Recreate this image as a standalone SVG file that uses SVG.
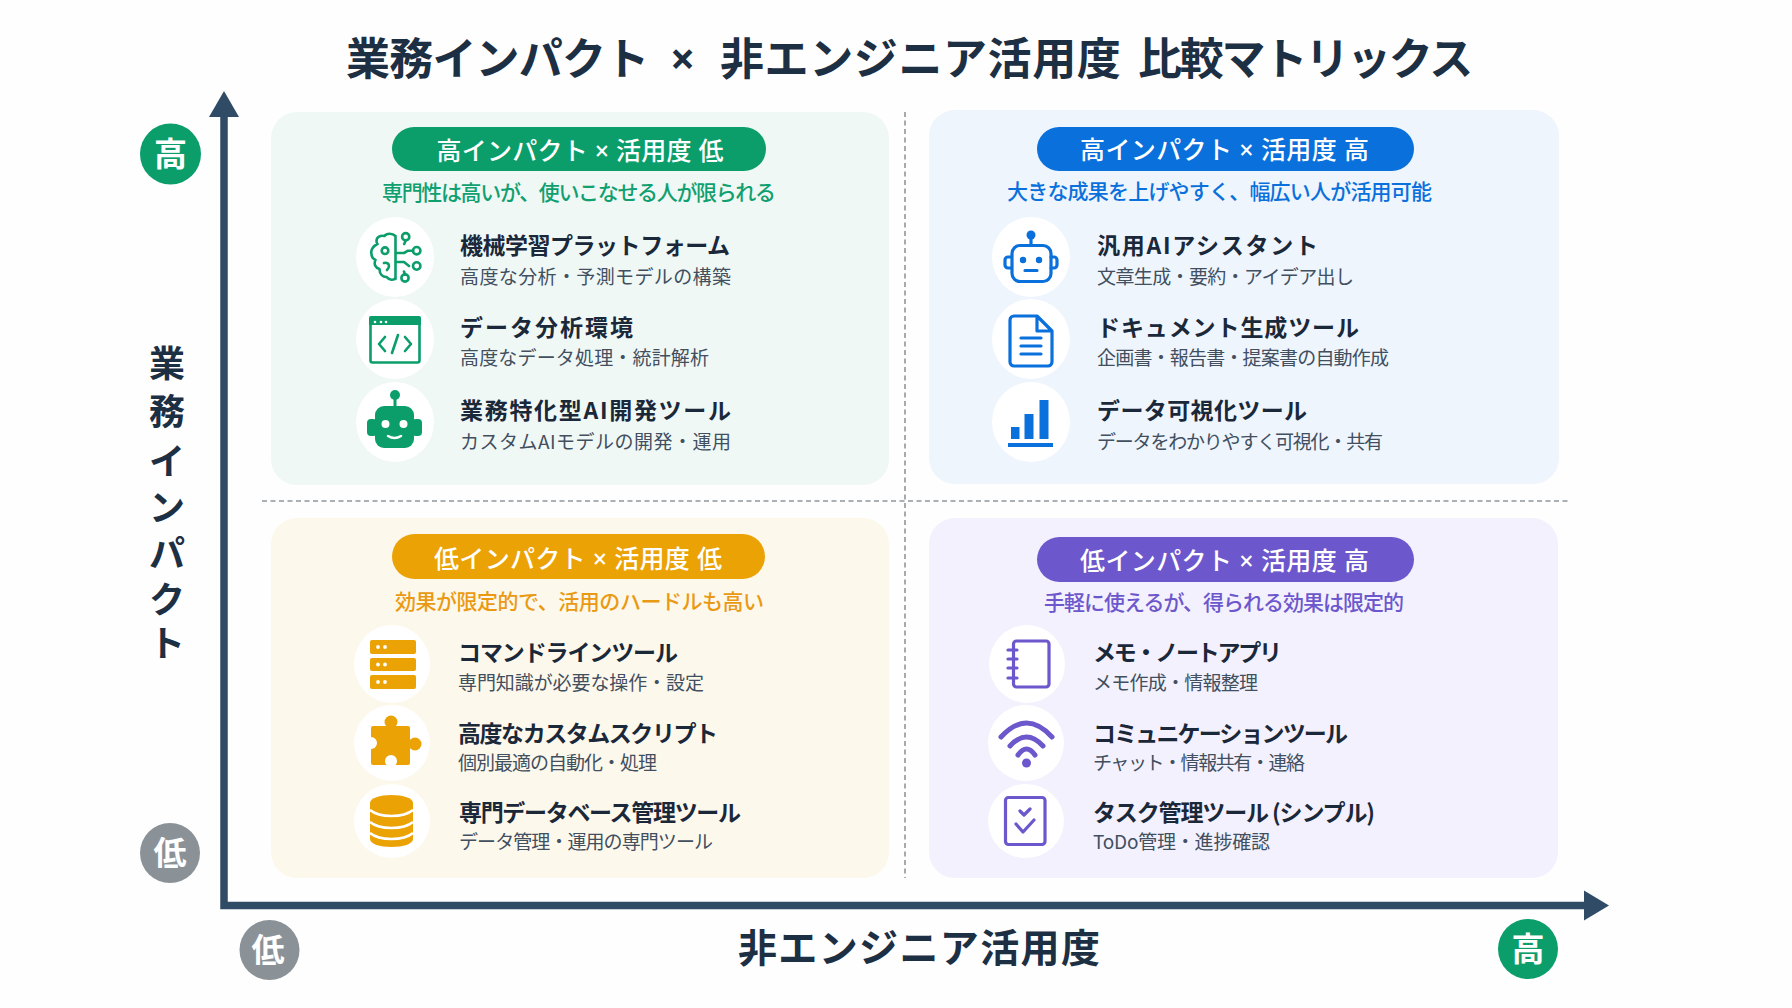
<svg xmlns="http://www.w3.org/2000/svg" width="1792" height="1008" viewBox="0 0 1792 1008">
<defs>
<style>
text{font-family:"Noto Sans CJK JP","Noto Sans",sans-serif}
.title{font-size:44px;font-weight:700;fill:#1d2f43;font-family:"Noto Sans","Noto Sans CJK JP",sans-serif}
.axis{font-size:39px;font-weight:700;fill:#1d2f43}
.badge{font-size:33px;font-weight:700;fill:#fff;text-anchor:middle}
.pill{font-size:25px;font-weight:500;fill:#fff;font-family:"Noto Sans","Noto Sans CJK JP",sans-serif}
.sub{font-size:21px;font-weight:500}
.t{font-size:23px;font-weight:700;fill:#1a2839}
.d{font-size:19px;font-weight:400;fill:#414f5f}
.w{fill:#fff}
.dash{stroke:#8f969c;stroke-width:1.6;stroke-dasharray:5 3.5;fill:none}
.ax{stroke:#2f4b66;stroke-width:7.5;fill:none}
.g{fill:#0b9e6b}.gs{stroke:#0b9e6b;fill:none;stroke-width:2.6;stroke-linecap:round;stroke-linejoin:round}
.b{fill:#0a70dc}.bs{stroke:#0a70dc;fill:none;stroke-width:3.2;stroke-linecap:round;stroke-linejoin:round}
.o{fill:#eba205}
.p{fill:#6d57cc}.ps{stroke:#6d57cc;fill:none;stroke-width:3.2;stroke-linecap:round;stroke-linejoin:round}
</style>
</defs>
<rect width="1792" height="1008" fill="#fefefe"/>
<text class="title" y="75"><tspan x="346" letter-spacing="-0.8">業務インパクト </tspan><tspan x="670">× </tspan><tspan x="720" letter-spacing="0.6">非エンジニア活用度 </tspan><tspan x="1138" letter-spacing="-2.2">比較マトリックス</tspan></text>

<g id="q-high-low">
<rect x="271" y="112" width="618" height="373" rx="26" fill="#f0f8f6"/>
<rect x="392" y="127" width="374" height="44" rx="22" class="g"/>
<text class="pill" x="436.500" y="160" textLength="287">高インパクト × 活用度 低</text>
<text class="sub" x="382" y="200" textLength="394" fill="#10a06f">専門性は高いが、使いこなせる人が限られる</text>
<g id="item-ml">
<ellipse cx="395" cy="257" rx="39" ry="40" class="w"/>
<path class="gs" d="M395.500 236c-3-3-9-3-11 0-4-1-8 1-8 5 0 1 0 2 1 3-5 2-7 7-6 10 0 3 2 5 4 6-2 4 0 8 4 9 0 5 3 8 7 8 3 3 7 4 9 1zM395.500 236v43"/>
<circle class="gs" cx="385" cy="250.700" r="3.300"/><path class="gs" d="M384 263c3-1 5 1 5 3s-1 3-2 4"/>
<path class="gs" d="M396 253h8l4-2.300h5M396 262h8l5 4M405.700 240.500l-1.500 3.500M405 274.500l-1 -3"/>
<circle class="gs" cx="405.700" cy="236.700" r="3.600"/><circle class="gs" cx="416.700" cy="250.700" r="3.700"/><circle class="gs" cx="416.700" cy="266" r="3.700"/><circle class="gs" cx="405" cy="278" r="3.600"/>
<text class="t" x="460" y="254" textLength="270">機械学習プラットフォーム</text>
<text class="d" x="460" y="284" textLength="271">高度な分析・予測モデルの構築</text>
</g>
<g id="item-env">
<ellipse cx="395" cy="339" rx="39" ry="40" class="w"/>
<rect class="gs" x="370.500" y="317.500" width="49" height="45" rx="2"/>
<path class="g" d="M369 318a2 2 0 0 1 2-2h48a2 2 0 0 1 2 2v7h-52z"/>
<circle class="w" cx="375" cy="322" r="1.300"/><circle class="w" cx="381" cy="322" r="1.300"/><circle class="w" cx="386" cy="322" r="1.300"/>
<path class="gs" d="M385 337l-6 7 6 7M405 337l6 7-6 7M398 335l-6 18"/>
<text class="t" x="460" y="336" textLength="173">データ分析環境</text>
<text class="d" x="460" y="365" textLength="249">高度なデータ処理・統計解析</text>
</g>
<g id="item-ai-dev">
<ellipse cx="395" cy="422" rx="39" ry="40" class="w"/>
<circle class="g" cx="395" cy="395" r="5"/><rect class="g" x="393.500" y="397" width="3" height="10"/>
<rect class="g" x="367" y="419" width="10" height="17" rx="4"/><rect class="g" x="412" y="419" width="10" height="17" rx="4"/>
<rect class="g" x="375" y="406" width="39" height="42" rx="9"/>
<circle class="w" cx="385.500" cy="424" r="4"/><circle class="w" cx="403.500" cy="424" r="4"/>
<path d="M388 436q6.500 4 13 0" stroke="#fff" stroke-width="2.500" fill="none" stroke-linecap="round"/>
<text class="t" x="460" y="419" textLength="271">業務特化型AI開発ツール</text>
<text class="d" x="460" y="449" textLength="271">カスタムAIモデルの開発・運用</text>
</g>
</g>

<g id="q-high-high">
<rect x="929" y="110" width="630" height="374" rx="26" fill="#eef5fd"/>
<rect x="1037" y="127" width="377" height="44" rx="22" class="b"/>
<text class="pill" x="1080" y="159" textLength="289">高インパクト × 活用度 高</text>
<text class="sub" x="1007" y="199" textLength="425" fill="#0a70dc">大きな成果を上げやすく、幅広い人が活用可能</text>
<g id="item-assistant">
<ellipse cx="1031" cy="257" rx="39" ry="40" class="w"/>
<circle class="b" cx="1031" cy="235" r="4.500"/><path class="bs" d="M1031 238v7"/>
<rect class="bs" x="1012" y="245.500" width="39" height="36" rx="8"/>
<path class="bs" d="M1011 257h-3a3 3 0 0 0-3 3v5a3 3 0 0 0 3 3h3M1051 257h3a3 3 0 0 1 3 3v5a3 3 0 0 1-3 3h-3M1025 270.500h12"/>
<circle class="b" cx="1023" cy="260" r="3.200"/><circle class="b" cx="1039" cy="260" r="3.200"/>
<text class="t" x="1097" y="254" textLength="221">汎用AIアシスタント</text>
<text class="d" x="1097" y="284" textLength="257">文章生成・要約・アイデア出し</text>
</g>
<g id="item-doc">
<ellipse cx="1031" cy="339" rx="39" ry="40" class="w"/>
<path class="bs" d="M1014 316h23l15 15v31a4 4 0 0 1-4 4h-34a4 4 0 0 1-4-4v-42a4 4 0 0 1 4-4zM1037 316v15h15M1021 338h20M1021 346h20M1021 354h20"/>
<text class="t" x="1097" y="336" textLength="262">ドキュメント生成ツール</text>
<text class="d" x="1097" y="365" textLength="292">企画書・報告書・提案書の自動作成</text>
</g>
<g id="item-viz">
<ellipse cx="1031" cy="422" rx="39" ry="40" class="w"/>
<rect class="b" x="1011" y="427" width="8.500" height="12"/><rect class="b" x="1024.500" y="414" width="9" height="25"/><rect class="b" x="1039.500" y="400" width="9" height="39"/><rect class="b" x="1008" y="443" width="45" height="4"/>
<text class="t" x="1097" y="419" textLength="210">データ可視化ツール</text>
<text class="d" x="1097" y="449" textLength="286">データをわかりやすく可視化・共有</text>
</g>
</g>

<g id="q-low-low">
<rect x="271" y="518" width="618" height="360" rx="26" fill="#fdf8ec"/>
<rect x="392" y="534" width="373" height="45" rx="22.500" class="o"/>
<text class="pill" x="434" y="568" textLength="288">低インパクト × 活用度 低</text>
<text class="sub" x="395" y="609" textLength="369" fill="#ea9a12">効果が限定的で、活用のハードルも高い</text>
<g id="item-cli">
<ellipse cx="392" cy="664" rx="38" ry="39" class="w"/>
<rect class="o" x="370" y="640" width="46" height="14" rx="2"/><rect class="o" x="370" y="658" width="46" height="13" rx="2"/><rect class="o" x="370" y="675" width="46" height="14" rx="2"/>
<g class="w"><circle cx="378" cy="647" r="1.900"/><circle cx="385" cy="647" r="1.900"/><circle cx="378" cy="664.500" r="1.900"/><circle cx="385" cy="664.500" r="1.900"/><circle cx="378" cy="682" r="1.900"/><circle cx="385" cy="682" r="1.900"/></g>
<text class="t" x="458" y="661" textLength="220">コマンドラインツール</text>
<text class="d" x="458" y="690" textLength="246">専門知識が必要な操作・設定</text>
</g>
<g id="item-script">
<ellipse cx="392" cy="743" rx="38" ry="38" class="w"/>
<circle class="o" cx="391" cy="722" r="6.500"/><circle class="o" cx="415" cy="744" r="6.500"/>
<rect class="o" x="371" y="726" width="39" height="39" rx="2"/>
<circle class="w" cx="371" cy="743" r="6"/><circle class="w" cx="391" cy="761" r="6"/>
<text class="t" x="458" y="742" textLength="260">高度なカスタムスクリプト</text>
<text class="d" x="458" y="770" textLength="199">個別最適の自動化・処理</text>
</g>
<g id="item-db">
<ellipse cx="392" cy="821" rx="38" ry="37" class="w"/>
<path class="o" d="M370 803c0-5 10-8 21.500-8s21.500 3 21.500 8v36c0 5-10 8-21.500 8s-21.500-3-21.500-8z"/>
<path d="M370 810c6 5 14 6 21.500 6s15.500-1 21.500-6M370 822c6 5 14 6 21.500 6s15.500-1 21.500-6M370 833c6 5 14 6 21.500 6s15.500-1 21.500-6" stroke="#fff" stroke-width="2.600" fill="none"/>
<text class="t" x="459" y="821" textLength="282">専門データベース管理ツール</text>
<text class="d" x="459" y="849" textLength="254">データ管理・運用の専門ツール</text>
</g>
</g>

<g id="q-low-high">
<rect x="929" y="518" width="629" height="360" rx="26" fill="#f3f1fd"/>
<rect x="1037" y="537" width="377" height="45" rx="22.500" class="p"/>
<text class="pill" x="1080" y="570" textLength="289">低インパクト × 活用度 高</text>
<text class="sub" x="1044" y="610" textLength="360" fill="#6d57cc">手軽に使えるが、得られる効果は限定的</text>
<g id="item-memo">
<ellipse cx="1027" cy="664" rx="38" ry="39" class="w"/>
<rect class="ps" x="1013.500" y="641" width="35.500" height="46" rx="3"/>
<path class="ps" d="M1008 650h9M1008 659h9M1008 668h9M1008 678h9"/>
<text class="t" x="1093" y="661" textLength="189">メモ・ノートアプリ</text>
<text class="d" x="1093" y="690" textLength="165">メモ作成・情報整理</text>
</g>
<g id="item-comm">
<ellipse cx="1026" cy="743" rx="38" ry="38" class="w"/>
<path d="M1001 737Q1026.500 709 1052 737M1010 746Q1026.500 728 1043 746M1018 755Q1026.500 743 1035 755" stroke="#6d57cc" stroke-width="5" fill="none" stroke-linecap="round"/>
<circle class="p" cx="1026.500" cy="763" r="4.500"/>
<text class="t" x="1093" y="742" textLength="255">コミュニケーションツール</text>
<text class="d" x="1093" y="770" textLength="212">チャット・情報共有・連絡</text>
</g>
<g id="item-task">
<ellipse cx="1026" cy="821" rx="38" ry="37" class="w"/>
<rect class="ps" x="1005.500" y="797.500" width="39.500" height="47" rx="3"/>
<path class="ps" d="M1020 811l4 4 6-6M1016 824l7 8 11-12"/>
<text class="t" x="1093" y="821" textLength="282">タスク管理ツール (シンプル)</text>
<text class="d" x="1093" y="849" textLength="177">ToDo管理・進捗確認</text>
</g>
</g>

<g id="connectors">
<path class="dash" d="M905 112V878M262 501H1568"/>
<path class="ax" d="M224 110V905.500H1590"/>
<path d="M224 91L239 117H209Z" fill="#2f4b66"/>
<path d="M1609 905.500L1584 890.500V920.500Z" fill="#2f4b66"/>
</g>

<g id="badge-y-high"><circle cx="170.500" cy="154" r="30.500" class="g"/><text class="badge" x="170.500" y="166">高</text></g>
<g id="badge-y-low"><circle cx="170" cy="853" r="30" fill="#8b9297"/><text class="badge" x="170" y="865">低</text></g>
<g id="badge-x-low"><circle cx="269.500" cy="950" r="30" fill="#8b9297"/><text class="badge" x="268" y="962">低</text></g>
<g id="badge-x-high"><circle cx="1528" cy="949" r="30" class="g"/><text class="badge" x="1528" y="961">高</text></g>

<text class="axis" x="738" y="962" textLength="362">非エンジニア活用度</text>
<text class="axis" text-anchor="middle" x="167 167 167 167 167 167 167" y="377 425 475 521 567 613 657" style="font-size:36px">業務インパクト</text>
</svg>
